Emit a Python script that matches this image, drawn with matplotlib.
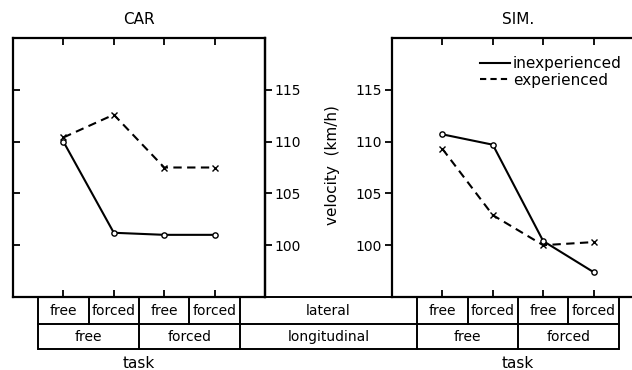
import matplotlib
matplotlib.use('Agg')
import matplotlib.pyplot as plt
from matplotlib.lines import Line2D

# ---- data ----
tasks = [0, 1, 2, 3]
lateral_labels = ['free', 'forced', 'free', 'forced']
longitudinal_labels = ['free', 'forced']
car_inexperienced = [110.0, 101.2, 101.0, 101.0]
car_experienced = [110.4, 112.6, 107.5, 107.5]
sim_inexperienced = [110.7, 109.7, 100.4, 97.4]
sim_experienced = [109.3, 102.9, 100.0, 100.3]
yticks = [100, 105, 110, 115]
panel_titles = ['CAR', 'SIM.']
series_labels = ['inexperienced', 'experienced']

plt.rcParams['font.family'] = ['DejaVu Sans']
FS = 10
FS2 = 11
W, H = 632, 370
fig = plt.figure(figsize=(W / 100, H / 100), dpi=100)


def px(l, t, r, b):
    return [l / W, 1 - b / H, (r - l) / W, (b - t) / H]


ax1 = fig.add_axes(px(13, 38, 265, 297))
ax2 = fig.add_axes(px(392, 38, 644, 297))

solid_kw = dict(color='black', lw=1.5, linestyle='-', marker='o', ms=3.8,
                mfc='white', mec='black', mew=1.0)
dash_kw = dict(color='black', lw=1.5, linestyle=(0, (4, 2.6)), marker='x',
               ms=4.2, mew=1.0)

for ax, inexp, exp in [(ax1, car_inexperienced, car_experienced),
                       (ax2, sim_inexperienced, sim_experienced)]:
    ax.plot(tasks, exp, **dash_kw)
    ax.plot(tasks, inexp, **solid_kw)
    ax.set_xlim(-1, 4)
    ax.set_ylim(95, 120)
    ax.set_xticks(tasks)
    ax.set_yticks(yticks)
    ax.tick_params(axis='x', which='both', direction='in', top=True, bottom=True,
                   labelbottom=False, length=5, width=1.3)
    for s in ax.spines.values():
        s.set_linewidth(1.6)

# left panel: inward ticks on left, labelled outward ticks on right
ax1.tick_params(axis='y', direction='in', left=True, right=False,
                labelleft=False, length=5, width=1.3)
sec = ax1.secondary_yaxis('right')
sec.set_yticks(yticks)
sec.tick_params(direction='out', length=5, width=1.3, labelsize=FS, pad=2)
sec.spines['right'].set_linewidth(1.6)

ax2.tick_params(axis='y', direction='out', left=True, right=False,
                labelleft=True, length=5, width=1.3, labelsize=FS, pad=2)

# legend
handles = [Line2D([], [], color='black', lw=1.5),
           Line2D([], [], color='black', lw=1.5, linestyle=(0, (3, 2)))]
ax2.legend(handles, series_labels, loc='center left',
           bbox_to_anchor=(480 / W, 1 - 72 / H), bbox_transform=fig.transFigure,
           frameon=False, borderaxespad=0, borderpad=0, handlelength=1.95,
           handletextpad=0.2, labelspacing=0.1, fontsize=FS2)

# overlay in pixel coordinates for table and labels
ov = fig.add_axes([0, 0, 1, 1])
ov.set_xlim(0, W)
ov.set_ylim(H, 0)
ov.axis('off')


def xpix(ax, x):
    return ax.transData.transform((x, 0))[0]


def ypix(ax, y):
    return H - ax.transData.transform((0, y))[1]


y0 = ypix(ax1, 95)
y1 = y0 + 27
y2 = y1 + 25
ytask = y2 + 14

lw_tab = 1.4
left_b = [xpix(ax1, t - 0.5) for t in tasks] + [xpix(ax1, 3.5)]
right_b = [xpix(ax2, t - 0.5) for t in tasks] + [xpix(ax2, 3.5)]
xl, xr = left_b[0], right_b[-1]
for yy in (y0, y1, y2):
    ov.plot([xl, xr], [yy, yy], color='black', lw=lw_tab, solid_capstyle='butt')
for xb in left_b + right_b:
    ov.plot([xb, xb], [y0, y1], color='black', lw=lw_tab)
for xb in [left_b[0], left_b[2], left_b[4], right_b[0], right_b[2], right_b[4]]:
    ov.plot([xb, xb], [y1, y2], color='black', lw=lw_tab)

for ax, bounds in [(ax1, left_b), (ax2, right_b)]:
    for i, lab in enumerate(lateral_labels):
        ov.text((bounds[i] + bounds[i + 1]) / 2, (y0 + y1) / 2, lab,
                ha='center', va='center', fontsize=FS)
    for j, lab in enumerate(longitudinal_labels):
        ov.text((bounds[2 * j] + bounds[2 * j + 2]) / 2, (y1 + y2) / 2, lab,
                ha='center', va='center', fontsize=FS)
    ov.text(xpix(ax, 1.5), ytask, 'task', ha='center', va='center', fontsize=FS2)

mid = (left_b[-1] + right_b[0]) / 2
ov.text(mid, (y0 + y1) / 2, 'lateral', ha='center', va='center', fontsize=FS)
ov.text(mid, (y1 + y2) / 2, 'longitudinal', ha='center', va='center', fontsize=FS)

ov.text(xpix(ax1, 1.5), 20, panel_titles[0], ha='center', va='center', fontsize=FS2)
ov.text(xpix(ax2, 1.5), 20, panel_titles[1], ha='center', va='center', fontsize=FS2)
ov.text(333, 165, 'velocity  (km/h)', ha='center', va='center', rotation=90,
        fontsize=FS2)

fig.savefig('out.png', dpi=100)
